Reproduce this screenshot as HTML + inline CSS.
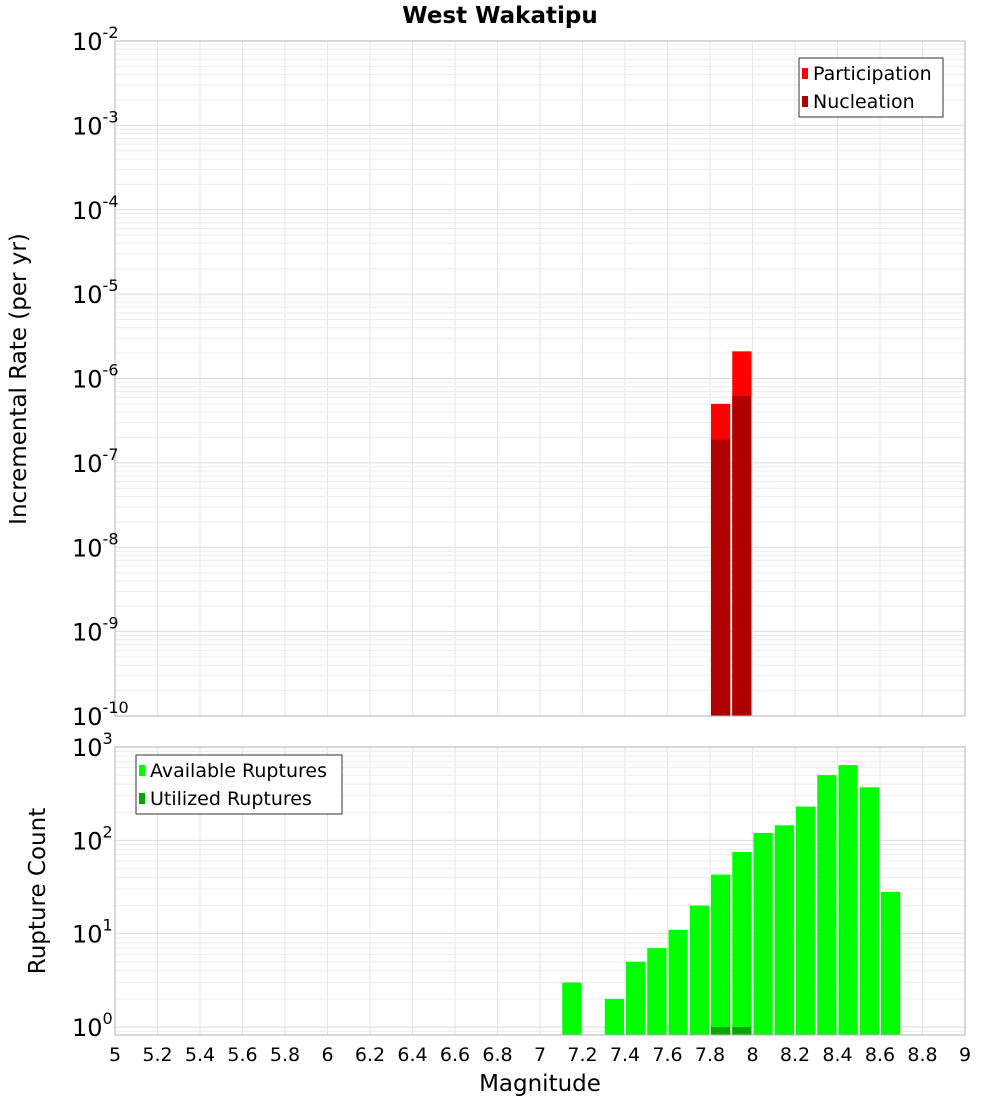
<!DOCTYPE html>
<html><head><meta charset="utf-8"><style>
body{margin:0;background:#fff}
svg{font-family:"DejaVu Sans","Liberation Sans",sans-serif}
</style></head><body>
<svg id="c" width="1000" height="1100" xmlns="http://www.w3.org/2000/svg"></svg>
<script>
const mags=[7.15,7.25,7.35,7.45,7.55,7.65,7.75,7.85,7.95,8.05,8.15,8.25,8.35,8.45,8.55,8.65];
const available=[3,0,2,5,7,11,20,43,75,120,145,230,500,640,370,28];
const utilized=[0,0,0,0,0,0,0,1,1,0,0,0,0,0,0,0];
const rateMags=[7.85,7.95];
const participation=[5e-7,2.1e-6];
const nucleation=[1.9e-7,6.2e-7];
const xTicks=["5","5.2","5.4","5.6","5.8","6","6.2","6.4","6.6","6.8","7","7.2","7.4","7.6","7.8","8","8.2","8.4","8.6","8.8","9"];
const topExps=[-10,-9,-8,-7,-6,-5,-4,-3,-2];
const botExps=[0,1,2,3];

const S=document.getElementById('c'),NS='http://www.w3.org/2000/svg';
function mk(t,a,p){const e=document.createElementNS(NS,t);for(const k in a)e.setAttribute(k,a[k]);(p||S).appendChild(e);return e;}
const X0=115,X1=965;
const x=m=>X0+(m-5)/4*(X1-X0);
const T0=41,T1=716;
const yT=v=>T0+(-2-Math.log10(v))/8*(T1-T0);
const B0=747,Bb=1027,B1=1035;
const yB=v=>Bb-Math.log10(v)*(Bb-B0)/3;

function grid(top,bot,yf,exps){
  xTicks.forEach(t=>{const gx=x(+t);
    const l=mk('line',{x1:gx,x2:gx,y1:top,y2:bot,stroke:'#e6e6e6','stroke-width':1});
    });
  for(let i=0;i<exps.length;i++){
    for(let k=1;k<10;k++){const v=k*Math.pow(10,exps[i]);const gy=yf(v);
      if(gy<top-0.5||gy>bot+0.5)continue;
      const l=mk('line',{x1:X0,x2:X1,y1:gy,y2:gy,stroke:k==1?'#dcdcdc':'#ececec','stroke-width':1});
      }
  }
}
grid(T0,T1,yT,topExps);
grid(B0,B1,yB,[-1,0,1,2,3]);

const bw=x(5.1)-x(5)-2;
rateMags.forEach((m,i)=>{
  const r=mk('rect',{x:x(m-0.05)+1,y:yT(participation[i]),width:bw,height:T1-yT(participation[i]),fill:'#ff0000'});
  
  const n=mk('rect',{x:x(m-0.05)+1,y:yT(nucleation[i]),width:bw,height:T1-yT(nucleation[i]),fill:'#b00000'});
  
});
mags.forEach((m,i)=>{
  if(available[i]>0){const r=mk('rect',{x:x(m-0.05)+1,y:yB(available[i]),width:bw,height:B1-yB(available[i]),fill:'#00ff00'});
  }
  if(utilized[i]>0){const r=mk('rect',{x:x(m-0.05)+1,y:yB(utilized[i]),width:bw,height:B1-yB(utilized[i]),fill:'#00a800'});
  }
});

let f=mk('rect',{x:X0,y:T0,width:X1-X0,height:T1-T0,fill:'none',stroke:'#b0b0b0'});

f=mk('rect',{x:X0,y:B0,width:X1-X0,height:B1-B0,fill:'none',stroke:'#b0b0b0'});


function ylab(exps,yf,name){exps.forEach(e=>{const t=mk('text',{x:72,y:yf(Math.pow(10,e))+9,'font-size':24});
  
  t.textContent='10';const s=mk('tspan',{dy:-12,'font-size':16},t);s.textContent=String(e);});}
ylab(topExps,yT,'top-y-tick');
ylab(botExps,yB,'bottom-y-tick');
xTicks.forEach(t=>{const e=mk('text',{x:x(+t),y:1061,'font-size':19,'text-anchor':'middle'});
  e.textContent=t;});

function txt(s,a,name){const e=mk('text',a);e.textContent=s;return e;}
txt('West Wakatipu',{x:500,y:23,'font-size':23,'font-weight':'bold','text-anchor':'middle'},'chart-title');
txt('Magnitude',{x:540,y:1091,'font-size':23,'text-anchor':'middle'},'x-axis-title');
txt('Incremental Rate (per yr)',{x:0,y:0,'font-size':23,'text-anchor':'middle',transform:'translate(26,379) rotate(-90)'},'top-y-axis-title');
txt('Rupture Count',{x:0,y:0,'font-size':23,'text-anchor':'middle',transform:'translate(45,891) rotate(-90)'},'bottom-y-axis-title');

function legend(lx,ly,w,items,name){
  const g=mk('g',{});
  mk('rect',{x:lx,y:ly,width:w,height:59,fill:'#fff',stroke:'#333'},g);
  items.forEach((it,i)=>{
    mk('rect',{x:lx+3,y:ly+10+i*28,width:6,height:11,fill:it[1]},g);
    const t=mk('text',{x:lx+14,y:ly+22+i*28,'font-size':19},g);t.textContent=it[0];
    
  });
}
legend(799,58,144,[['Participation','#ff0000'],['Nucleation','#b00000']],'top-legend');
legend(136,755,206,[['Available Ruptures','#00ff00'],['Utilized Ruptures','#00a800']],'bottom-legend');
</script>
</body></html>
